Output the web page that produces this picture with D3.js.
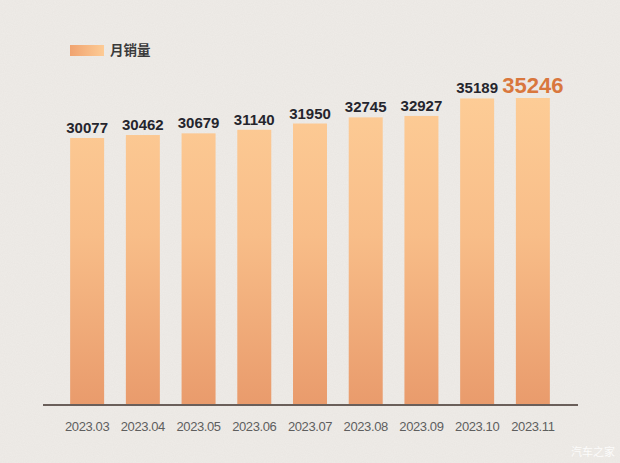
<!DOCTYPE html>
<html>
<head>
<meta charset="utf-8">
<script src="https://cdn.jsdelivr.net/npm/d3@7"></script>
<style>
  html, body { margin: 0; padding: 0; background: #efece8; }
  svg { display: block; }
</style>
</head>
<body>
<svg class="chart" width="620" height="463"></svg>
<script>
// monthly sales
var months = ["2023.03", "2023.04", "2023.05", "2023.06", "2023.07", "2023.08", "2023.09", "2023.10", "2023.11"];
var sales = [30077, 30462, 30679, 31140, 31950, 32745, 32927, 35189, 35246];
var legendLabel = "月销量";
var watermark = "汽车之家";

var canvasWidth = 620;
var canvasHeight = 463;
var baseY = 405;

var svg = d3.select(".chart");
var defs = svg.append("defs");

// subtle paper noise
var filter = defs.append("filter").attr("id", "noise")
    .attr("x", 0).attr("y", 0).attr("width", "100%").attr("height", "100%");
filter.append("feTurbulence").attr("type", "fractalNoise")
    .attr("baseFrequency", 0.9).attr("numOctaves", 2).attr("seed", 3);
filter.append("feColorMatrix").attr("type", "matrix")
    .attr("values", "0 0 0 0 0.45  0 0 0 0 0.42  0 0 0 0 0.40  0 0 0 0.10 0");
svg.append("rect").attr("width", canvasWidth).attr("height", canvasHeight).attr("fill", "#efece8");
svg.append("rect").attr("width", canvasWidth).attr("height", canvasHeight).attr("filter", "url(#noise)");

// scales
var x = d3.scaleBand()
    .domain(months)
    .range([59, 561])
    .paddingInner(0.39)
    .paddingOuter(0.2);

var y = d3.scaleLinear()
    .domain([-4420, 35246])
    .range([baseY, 98]);

// gradients
var barGrad = defs.append("linearGradient").attr("id", "barGrad")
    .attr("gradientUnits", "userSpaceOnUse")
    .attr("x1", 0).attr("y1", y(35246)).attr("x2", 0).attr("y2", baseY);
barGrad.append("stop").attr("offset", "0%").attr("stop-color", "#fdcc96");
barGrad.append("stop").attr("offset", "45%").attr("stop-color", "#f8bd88");
barGrad.append("stop").attr("offset", "100%").attr("stop-color", "#e99b6c");

var legGrad = defs.append("linearGradient").attr("id", "legGrad")
    .attr("x1", 0).attr("y1", 0).attr("x2", 1).attr("y2", 0);
legGrad.append("stop").attr("offset", "0%").attr("stop-color", "#f0a370");
legGrad.append("stop").attr("offset", "100%").attr("stop-color", "#fdcb95");

// legend
svg.append("rect")
    .attr("x", 70).attr("y", 45).attr("width", 34).attr("height", 11)
    .attr("fill", "url(#legGrad)");
svg.append("text")
    .attr("x", 110).attr("y", 50.5)
    .attr("dy", "0.36em")
    .style("font-family", "'Noto Sans CJK SC', sans-serif")
    .style("font-size", "13.5px")
    .style("font-weight", "bold")
    .attr("fill", "#3a3a3a")
    .text(legendLabel);

// bars
svg.selectAll("rect.bar")
    .data(sales)
    .enter().append("rect")
    .attr("class", "bar")
    .attr("x", function (d, i) { return x(months[i]); })
    .attr("width", x.bandwidth())
    .attr("y", function (d) { return y(d); })
    .attr("height", function (d) { return baseY - y(d); })
    .attr("fill", "url(#barGrad)");

// value labels
var last = sales.length - 1;
svg.selectAll("text.val")
    .data(sales)
    .enter().append("text")
    .attr("class", "val")
    .attr("x", function (d, i) { return x(months[i]) + x.bandwidth() / 2; })
    .attr("y", function (d, i) { return y(d) - 5; })
    .attr("text-anchor", "middle")
    .style("font-family", "'Liberation Sans', Arial, sans-serif")
    .style("font-weight", "bold")
    .style("font-size", function (d, i) { return i === last ? "22px" : "15px"; })
    .attr("fill", function (d, i) { return i === last ? "#d9773d" : "#25252d"; })
    .text(function (d) { return d; });

// x axis
var xAxis = d3.axisBottom(x).tickSize(0).tickPadding(17);
var axisG = svg.append("g")
    .attr("transform", "translate(0," + baseY + ")")
    .call(xAxis);
axisG.select(".domain")
    .attr("d", "M43,0H578")
    .attr("stroke", "#6a5f5a")
    .attr("stroke-width", 2);
axisG.selectAll("text")
    .style("font-family", "'Liberation Sans', Arial, sans-serif")
    .style("font-size", "13px")
    .style("letter-spacing", "-0.4px")
    .attr("fill", "#5e5e5e");

// watermark
svg.append("text")
    .attr("x", 615).attr("y", 456)
    .attr("text-anchor", "end")
    .style("font-family", "'Noto Sans CJK SC', sans-serif")
    .style("font-size", "11px")
    .attr("fill", "#ffffff")
    .attr("fill-opacity", 0.85)
    .text(watermark);
</script>
</body>
</html>
